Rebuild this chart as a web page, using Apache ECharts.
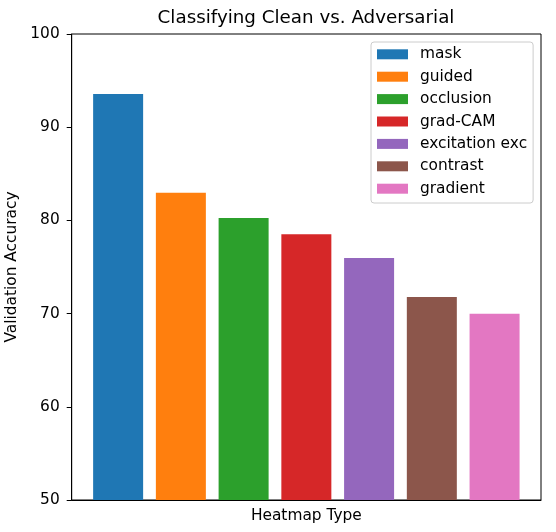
<!DOCTYPE html>
<html>
<head>
<meta charset="utf-8">
<script src="https://cdn.jsdelivr.net/npm/echarts@6/dist/echarts.min.js"></script>
<style>html,body{margin:0;padding:0;background:#fff;}#c{width:556px;height:532px;}</style>
</head>
<body>
<div id="c"></div>
<script>
const categories = ['mask', 'guided', 'occlusion', 'grad-CAM', 'excitation exc', 'contrast', 'gradient'];
const values = [93.56, 82.97, 80.26, 78.51, 75.97, 71.78, 69.98];
const colors = ['#1f77b4', '#ff7f0e', '#2ca02c', '#d62728', '#9467bd', '#8c564b', '#e377c2'];
const yTicks = [50, 60, 70, 80, 90, 100];

const FONT = 'DejaVu Sans';
const chart = echarts.init(document.getElementById('c'), null, {renderer: 'canvas'});

const series = categories.map((name, i) => ({
  name: name,
  type: 'bar',
  data: [[i, values[i]]],
  barWidth: 50,
  barGap: '-100%',
  clip: true,
  itemStyle: {color: colors[i]},
  emphasis: {disabled: true},
  animation: false
}));

chart.setOption({
  animation: false,
  backgroundColor: '#fff',
  textStyle: {fontFamily: FONT},
  title: {
    text: 'Classifying Clean vs. Adversarial',
    left: 306,
    top: 9,
    textAlign: 'center',
    padding: 0,
    textStyle: {fontFamily: FONT, fontSize: 18.3, fontWeight: 'normal', color: '#000'}
  },
  grid: {
    left: 71.7, right: 15, top: 34, bottom: 32,
    containLabel: false,
    outerBoundsMode: 'none',
    show: true, borderColor: '#000', borderWidth: 1, backgroundColor: 'transparent'
  },
  legend: {
    data: categories,
    orient: 'vertical',
    left: 371,
    top: 42,
    padding: [4.6, 6, 6.6, 6],
    itemWidth: 31,
    itemHeight: 10,
    itemGap: 7,
    icon: 'rect',
    backgroundColor: 'rgba(255,255,255,0.8)',
    borderColor: '#cccccc',
    borderWidth: 1,
    borderRadius: 3,
    selectedMode: false,
    textStyle: {fontFamily: FONT, fontSize: 15.4, color: '#000', lineHeight: 15.4, padding: [0, 0, 0, 7]}
  },
  xAxis: {
    type: 'value',
    min: -0.74,
    max: 6.74,
    name: 'Heatmap Type',
    nameLocation: 'middle',
    nameGap: 8,
    nameTextStyle: {fontFamily: FONT, fontSize: 15.4, color: '#000'},
    axisLine: {show: true, onZero: false, lineStyle: {color: '#000', width: 1}},
    axisTick: {show: false},
    axisLabel: {show: false},
    splitLine: {show: false}
  },
  yAxis: {
    type: 'value',
    min: 50,
    max: 100,
    interval: 10,
    name: 'Validation Accuracy',
    nameLocation: 'middle',
    nameGap: 43,
    nameTextStyle: {fontFamily: FONT, fontSize: 15.4, color: '#000'},
    axisLine: {show: true, onZero: false, lineStyle: {color: '#000', width: 1}},
    axisTick: {show: true, length: 5, lineStyle: {color: '#000', width: 1}},
    axisLabel: {
      margin: 12,
      fontFamily: FONT, fontSize: 15.4, color: '#000',
      formatter: v => yTicks.includes(v) ? String(v) : ''
    },
    splitLine: {show: false}
  },
  series: series
});
</script>
</body>
</html>
